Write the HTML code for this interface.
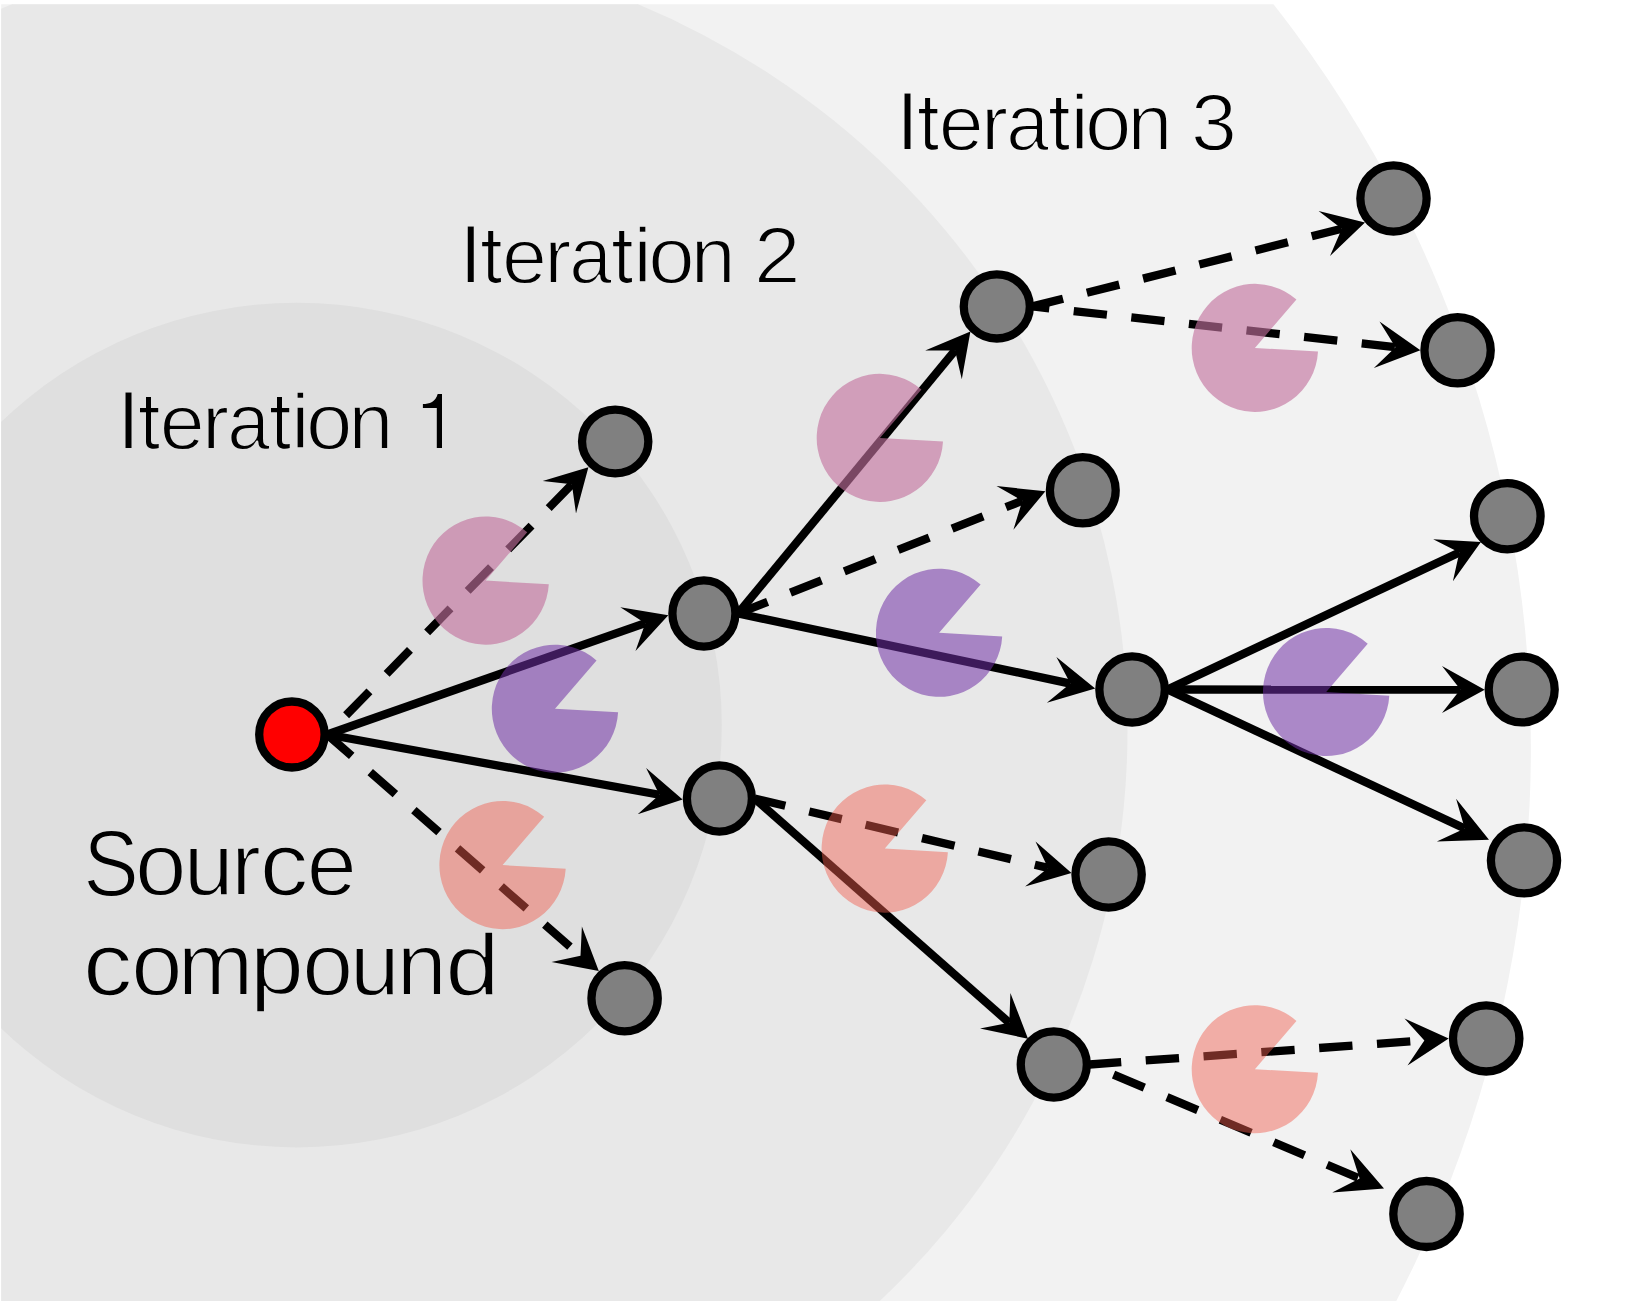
<!DOCTYPE html><html><head><meta charset="utf-8"><style>html,body{margin:0;padding:0;background:#fff;}svg{display:block}</style></head><body>
<svg width="1627" height="1301" viewBox="0 0 1627 1301">
<defs><clipPath id="cp"><rect x="1.2" y="4.3" width="1700" height="1400"/></clipPath></defs>
<rect width="1627" height="1301" fill="#fff"/>
<g clip-path="url(#cp)">
<circle cx="327.7" cy="748.0" r="1203.2" fill="#f2f2f2"/>
<ellipse cx="325.0" cy="730.8" rx="802.5" ry="789.1" fill="#e8e8e8"/>
<ellipse cx="296.9" cy="725.1" rx="424.9" ry="422.3" fill="#dfdfdf"/>
</g>
<g stroke="#000" stroke-width="8.3" fill="none"><line x1="327.25" y1="734.5" x2="571.84" y2="484.37" stroke-dasharray="33.4 24.56" stroke-dashoffset="31.01"/><line x1="327.25" y1="734.5" x2="645.27" y2="623.14"/><line x1="327.25" y1="734.5" x2="659.4" y2="794.78"/><line x1="327.25" y1="734.5" x2="580.5" y2="955.77" stroke-dasharray="33.4 24.56" stroke-dashoffset="0.9"/><line x1="738.05" y1="613.5" x2="955.07" y2="350.47"/><line x1="738.05" y1="613.5" x2="1022.34" y2="500.72" stroke-dasharray="33.4 24.56" stroke-dashoffset="1.6"/><line x1="738.05" y1="613.5" x2="1070.38" y2="683.58"/><line x1="754.55" y1="798.5" x2="1048.02" y2="867.89" stroke-dasharray="33.4 24.56" stroke-dashoffset="1.8"/><line x1="754.55" y1="798.5" x2="1009.3" y2="1022.77"/><line x1="1032.5" y1="306.4" x2="1341.8" y2="228.76" stroke-dasharray="33.4 24.56" stroke-dashoffset="1.9"/><line x1="1032.5" y1="306.4" x2="1395.49" y2="347.14" stroke-dasharray="33.4 24.56" stroke-dashoffset="16.5"/><line x1="1167.5" y1="689.5" x2="1459.33" y2="552.4"/><line x1="1167.5" y1="689.5" x2="1460.36" y2="689.59"/><line x1="1167.5" y1="689.5" x2="1464.75" y2="828.56"/><line x1="1089.5" y1="1064.5" x2="1424.36" y2="1040.45" stroke-dasharray="33.4 24.56" stroke-dashoffset="1.6"/><line x1="1089.5" y1="1064.5" x2="1359.63" y2="1178.51" stroke-dasharray="33.4 24.56" stroke-dashoffset="31.86"/></g>
<g fill="#000"><polygon points="588.4,467.3 542.7,481.1 571.84,484.37 576,513.4"/><polygon points="668.3,615.3 620.3,607.2 645.27,623.14 635.5,650.9"/><polygon points="682.6,799.6 646.1,768.1 659.4,794.78 637.7,814.2"/><polygon points="598.8,971.1 581.9,926.5 580.5,955.77 551.5,961.9"/><polygon points="970.4,331.4 925.2,350.4 955.07,350.47 961.8,379.3"/><polygon points="1045.4,491.2 996.5,486.1 1022.34,500.72 1013.4,529.7"/><polygon points="1095.2,688.6 1056.4,656.9 1070.38,683.58 1046.9,702.7"/><polygon points="1071.5,873.05 1035.5,841.4 1048.02,867.89 1025.1,886.6"/><polygon points="1028,1038.7 1010.4,992.9 1009.3,1022.77 980,1028.6"/><polygon points="1365,222.4 1318.6,211.1 1341.8,228.76 1330,256"/><polygon points="1420.4,350.3 1379.5,321.5 1395.49,347.14 1373.9,368"/><polygon points="1480.9,542 1433.2,539.2 1459.33,552.4 1452.9,581.3"/><polygon points="1484.7,689.7 1442,666.1 1460.36,689.59 1442,712.9"/><polygon points="1489,839.7 1456.1,798.8 1464.75,828.56 1436.8,841.5"/><polygon points="1448.7,1038.4 1404.5,1018.5 1424.36,1040.45 1407.5,1065.5"/><polygon points="1384,1188.6 1350.3,1149.2 1359.63,1178.51 1332.2,1192.6"/></g>
<g><path d="M485.7,580.6 L548.8,584.24 A63.2,64.05 0 1 1 527.23,532.32 Z" fill="rgb(195,113,157)" fill-opacity="0.626"/><path d="M555,708.7 L618.1,712.34 A63.2,64.05 0 1 1 596.53,660.42 Z" fill="rgb(112,48,165)" fill-opacity="0.547"/><path d="M502.6,865.1 L565.7,868.74 A63.2,64.05 0 1 1 544.13,816.82 Z" fill="rgb(239,93,78)" fill-opacity="0.461"/><path d="M879.9,437.9 L943,441.54 A63.2,64.05 0 1 1 921.43,389.62 Z" fill="rgb(195,113,157)" fill-opacity="0.626"/><path d="M939.1,632.8 L1002.2,636.44 A63.2,64.05 0 1 1 980.63,584.52 Z" fill="rgb(112,48,165)" fill-opacity="0.547"/><path d="M884.8,848.6 L947.9,852.24 A63.2,64.05 0 1 1 926.33,800.32 Z" fill="rgb(239,93,78)" fill-opacity="0.461"/><path d="M1254.9,347.9 L1318,351.54 A63.2,64.05 0 1 1 1296.43,299.62 Z" fill="rgb(195,113,157)" fill-opacity="0.626"/><path d="M1326.2,692 L1389.3,695.64 A63.2,64.05 0 1 1 1367.73,643.72 Z" fill="rgb(112,48,165)" fill-opacity="0.547"/><path d="M1254.9,1069.2 L1318,1072.84 A63.2,64.05 0 1 1 1296.43,1020.92 Z" fill="rgb(239,93,78)" fill-opacity="0.461"/></g>
<g stroke="#000" stroke-width="8.3"><ellipse cx="291.9" cy="734.5" rx="32.7" ry="33" fill="#ff0000"/><ellipse cx="615.2" cy="441.5" rx="33.15" ry="31.9" fill="#808080"/><ellipse cx="703.9" cy="613.5" rx="31.5" ry="33.1" fill="#808080"/><ellipse cx="719.4" cy="798.5" rx="32.5" ry="33.05" fill="#808080"/><ellipse cx="624.6" cy="998.2" rx="33.15" ry="33.1" fill="#808080"/><ellipse cx="996.8" cy="306.4" rx="33.05" ry="32.1" fill="#808080"/><ellipse cx="1082.8" cy="490.3" rx="32.9" ry="33.15" fill="#808080"/><ellipse cx="1132.1" cy="689.5" rx="32.75" ry="33.1" fill="#808080"/><ellipse cx="1108.6" cy="874.5" rx="33.15" ry="33.05" fill="#808080"/><ellipse cx="1053.8" cy="1064.5" rx="33.05" ry="33.1" fill="#808080"/><ellipse cx="1393.5" cy="198.5" rx="33.15" ry="33.1" fill="#808080"/><ellipse cx="1457.6" cy="350.3" rx="33.15" ry="33.1" fill="#808080"/><ellipse cx="1507.3" cy="516.2" rx="33.3" ry="33.1" fill="#808080"/><ellipse cx="1521.7" cy="689.5" rx="33" ry="32.95" fill="#808080"/><ellipse cx="1524" cy="860.4" rx="33.1" ry="33" fill="#808080"/><ellipse cx="1486.2" cy="1038.4" rx="33.2" ry="33.1" fill="#808080"/><ellipse cx="1426.5" cy="1214" rx="33.2" ry="33" fill="#808080"/></g>
<g font-family="&quot;Liberation Sans&quot;, sans-serif" font-size="100" fill="#000" stroke="#dfdfdf" stroke-width="1.8" stroke-linejoin="round"><text transform="matrix(0.847 0 0 0.829 116.675 448.8)" stroke-width="2.147">I</text><text transform="matrix(0.808 0 0 0.787 159.758 448.813)" stroke-width="2.257">e</text><text transform="matrix(0.813 0 0 0.787 201.987 448.8)" stroke-width="2.251">r</text><text transform="matrix(0.767 0 0 0.791 227.126 449.009)" stroke-width="2.311">a</text><text transform="matrix(0.843 0 0 0.782 291.056 448.8)" stroke-width="2.217">i</text><text transform="matrix(0.835 0 0 0.802 305.981 448.998)" stroke-width="2.2">o</text><text transform="matrix(0.806 0 0 0.798 348.523 448.8)" stroke-width="2.245">n</text></g><path fill="#000" transform="translate(0 0)" d="M146.0,397.0 L151.0,397.0 L151.0,408.0 L158.2,408.0 L158.2,412.2 L151.0,412.2 L151.0,440.5 C151.0,443.2 152.3,444.3 154.8,444.3 C156.3,444.3 157.6,444.1 158.7,443.9 L158.7,448.0 C157.2,448.5 155.5,448.8 153.8,448.8 C148.8,448.8 146.0,446.5 146.0,441.5 L146.0,412.2 L140.0,412.2 L140.0,408.0 L146.0,408.0 Z"/><path fill="#000" transform="translate(131 0)" d="M146.0,397.0 L151.0,397.0 L151.0,408.0 L158.2,408.0 L158.2,412.2 L151.0,412.2 L151.0,440.5 C151.0,443.2 152.3,444.3 154.8,444.3 C156.3,444.3 157.6,444.1 158.7,443.9 L158.7,448.0 C157.2,448.5 155.5,448.8 153.8,448.8 C148.8,448.8 146.0,446.5 146.0,441.5 L146.0,412.2 L140.0,412.2 L140.0,408.0 L146.0,408.0 Z"/><path fill="#000" transform="translate(0 0)" d="M442.0,393.9 L442.0,447.9 L436.8,447.9 L436.8,407.9 L422.9,407.9 L422.9,404.1 C429.5,403.9 435.8,401.5 437.7,393.9 Z"/><g font-family="&quot;Liberation Sans&quot;, sans-serif" font-size="100" fill="#000" stroke="#e8e8e8" stroke-width="1.8" stroke-linejoin="round"><text transform="matrix(0.847 0 0 0.829 458.875 282.9)" stroke-width="2.147">I</text><text transform="matrix(0.808 0 0 0.787 501.958 282.913)" stroke-width="2.257">e</text><text transform="matrix(0.813 0 0 0.787 544.187 282.9)" stroke-width="2.251">r</text><text transform="matrix(0.767 0 0 0.791 569.326 283.109)" stroke-width="2.311">a</text><text transform="matrix(0.843 0 0 0.782 633.256 282.9)" stroke-width="2.217">i</text><text transform="matrix(0.835 0 0 0.802 648.181 283.098)" stroke-width="2.2">o</text><text transform="matrix(0.806 0 0 0.798 690.723 282.9)" stroke-width="2.245">n</text><text transform="matrix(0.836 0 0 0.8 754.085 282.9)" stroke-width="2.2">2</text></g><path fill="#000" transform="translate(342.2 -165.9)" d="M146.0,397.0 L151.0,397.0 L151.0,408.0 L158.2,408.0 L158.2,412.2 L151.0,412.2 L151.0,440.5 C151.0,443.2 152.3,444.3 154.8,444.3 C156.3,444.3 157.6,444.1 158.7,443.9 L158.7,448.0 C157.2,448.5 155.5,448.8 153.8,448.8 C148.8,448.8 146.0,446.5 146.0,441.5 L146.0,412.2 L140.0,412.2 L140.0,408.0 L146.0,408.0 Z"/><path fill="#000" transform="translate(473.2 -165.9)" d="M146.0,397.0 L151.0,397.0 L151.0,408.0 L158.2,408.0 L158.2,412.2 L151.0,412.2 L151.0,440.5 C151.0,443.2 152.3,444.3 154.8,444.3 C156.3,444.3 157.6,444.1 158.7,443.9 L158.7,448.0 C157.2,448.5 155.5,448.8 153.8,448.8 C148.8,448.8 146.0,446.5 146.0,441.5 L146.0,412.2 L140.0,412.2 L140.0,408.0 L146.0,408.0 Z"/><g font-family="&quot;Liberation Sans&quot;, sans-serif" font-size="100" fill="#000" stroke="#f2f2f2" stroke-width="1.8" stroke-linejoin="round"><text transform="matrix(0.847 0 0 0.829 895.775 149.8)" stroke-width="2.147">I</text><text transform="matrix(0.808 0 0 0.787 938.858 149.813)" stroke-width="2.257">e</text><text transform="matrix(0.813 0 0 0.787 981.087 149.8)" stroke-width="2.251">r</text><text transform="matrix(0.767 0 0 0.791 1006.226 150.009)" stroke-width="2.311">a</text><text transform="matrix(0.843 0 0 0.782 1070.156 149.8)" stroke-width="2.217">i</text><text transform="matrix(0.835 0 0 0.802 1085.081 149.998)" stroke-width="2.2">o</text><text transform="matrix(0.806 0 0 0.798 1127.623 149.8)" stroke-width="2.245">n</text><text transform="matrix(0.825 0 0 0.796 1190.97 149.904)" stroke-width="2.222">3</text></g><path fill="#000" transform="translate(779.1 -299)" d="M146.0,397.0 L151.0,397.0 L151.0,408.0 L158.2,408.0 L158.2,412.2 L151.0,412.2 L151.0,440.5 C151.0,443.2 152.3,444.3 154.8,444.3 C156.3,444.3 157.6,444.1 158.7,443.9 L158.7,448.0 C157.2,448.5 155.5,448.8 153.8,448.8 C148.8,448.8 146.0,446.5 146.0,441.5 L146.0,412.2 L140.0,412.2 L140.0,408.0 L146.0,408.0 Z"/><path fill="#000" transform="translate(910.1 -299)" d="M146.0,397.0 L151.0,397.0 L151.0,408.0 L158.2,408.0 L158.2,412.2 L151.0,412.2 L151.0,440.5 C151.0,443.2 152.3,444.3 154.8,444.3 C156.3,444.3 157.6,444.1 158.7,443.9 L158.7,448.0 C157.2,448.5 155.5,448.8 153.8,448.8 C148.8,448.8 146.0,446.5 146.0,441.5 L146.0,412.2 L140.0,412.2 L140.0,408.0 L146.0,408.0 Z"/><g font-family="&quot;Liberation Sans&quot;, sans-serif" font-size="100" fill="#000" stroke="#dfdfdf" stroke-width="1.8" stroke-linejoin="round"><text transform="matrix(0.834 0 0 0.946 83.239 895.554)" stroke-width="2.027">S</text><text transform="matrix(0.926 0 0 0.884 135.097 894.916)" stroke-width="1.99">o</text><text transform="matrix(0.898 0 0 0.885 183.764 894.915)" stroke-width="2.019">u</text><text transform="matrix(0.889 0 0 0.883 231.28 894.8)" stroke-width="2.031">r</text><text transform="matrix(0.972 0 0 0.885 259.859 895.015)" stroke-width="1.94">c</text><text transform="matrix(0.9 0 0 0.885 306.867 895.015)" stroke-width="2.017">e</text><text transform="matrix(0.989 0 0 0.893 83.09 995.307)" stroke-width="1.916">c</text><text transform="matrix(0.922 0 0 0.893 131.215 995.307)" stroke-width="1.984">o</text><text transform="matrix(0.907 0 0 0.889 177.648 994.9)" stroke-width="2.005">m</text><text transform="matrix(0.975 0 0 0.871 249.691 993.708)" stroke-width="1.953">p</text><text transform="matrix(0.916 0 0 0.893 302.142 995.307)" stroke-width="1.991">o</text><text transform="matrix(0.893 0 0 0.893 350.095 995.007)" stroke-width="2.016">u</text><text transform="matrix(0.9 0 0 0.889 396.794 994.9)" stroke-width="2.013">n</text><text transform="matrix(0.978 0 0 0.88 445.181 994.804)" stroke-width="1.941">d</text></g>
</svg></body></html>
